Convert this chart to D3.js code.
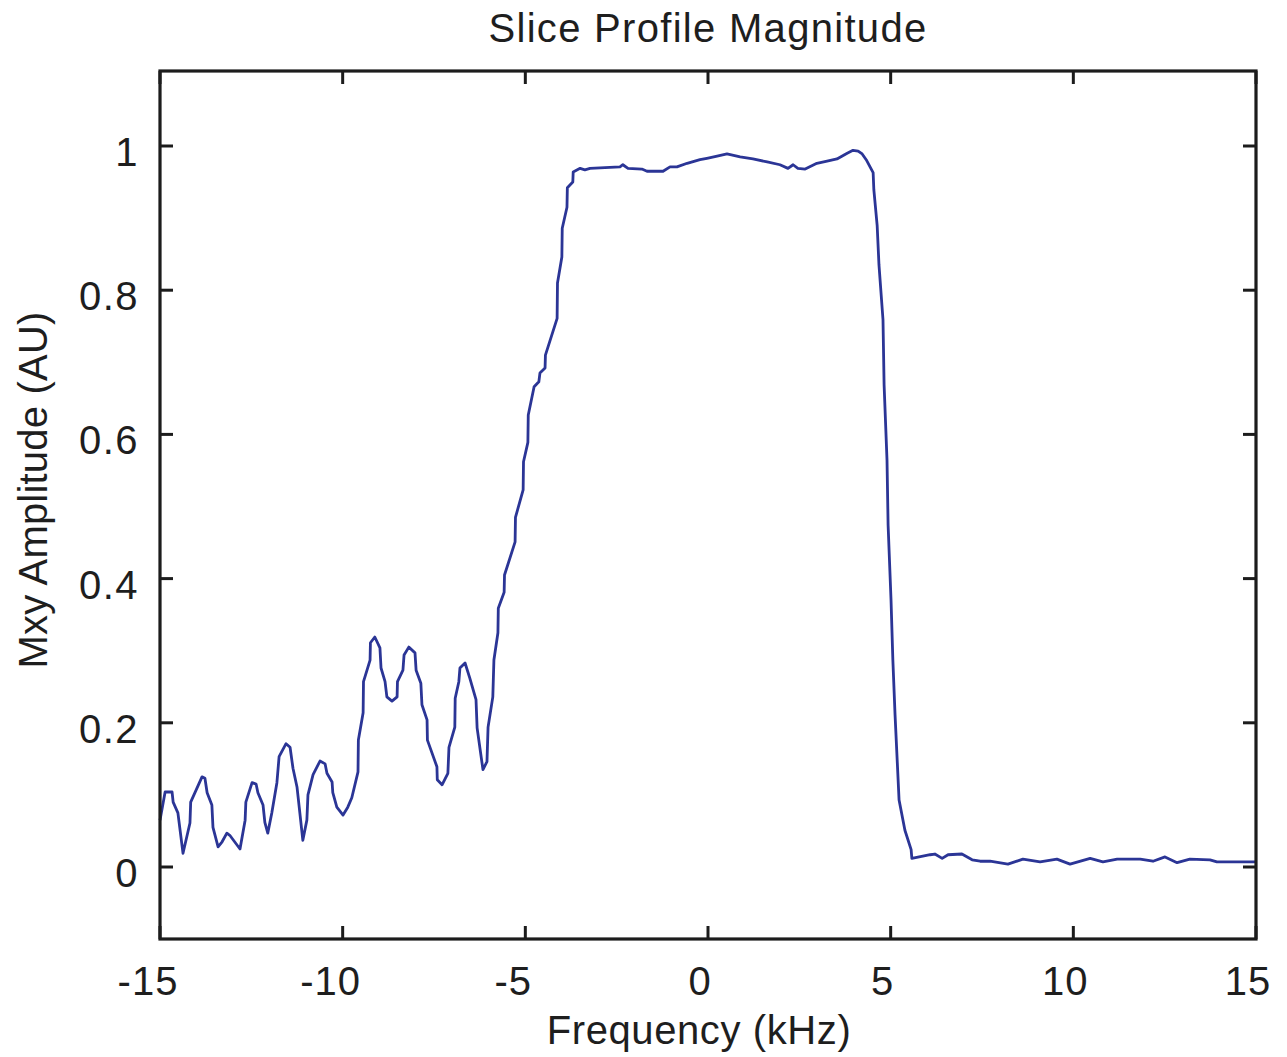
<!DOCTYPE html>
<html><head><meta charset="utf-8">
<script src="https://cdn.jsdelivr.net/npm/d3@7"></script>
<style>body{margin:0;background:#fff}svg{display:block}text{font-family:"Liberation Sans",Arial,sans-serif;fill:#1e1e1e}</style>
</head><body><svg id="c" width="1287" height="1057"></svg>
<script>
const freq = [-15.00,-14.86,-14.67,-14.64,-14.51,-14.37,-14.18,-14.16,-13.85,-13.77,-13.71,-13.58,-13.55,-13.41,-13.30,-13.17,-13.09,-12.81,-12.67,-12.65,-12.48,-12.37,-12.32,-12.18,-12.13,-12.05,-11.94,-11.80,-11.74,-11.55,-11.44,-11.36,-11.25,-11.09,-10.98,-10.95,-10.81,-10.62,-10.48,-10.43,-10.29,-10.27,-10.16,-9.99,-9.86,-9.75,-9.58,-9.57,-9.44,-9.43,-9.25,-9.24,-9.12,-8.98,-8.95,-8.84,-8.79,-8.65,-8.51,-8.50,-8.35,-8.32,-8.19,-8.02,-7.99,-7.86,-7.83,-7.69,-7.68,-7.42,-7.41,-7.28,-7.12,-7.09,-6.93,-6.92,-6.82,-6.79,-6.65,-6.52,-6.35,-6.32,-6.16,-6.05,-6.02,-5.89,-5.86,-5.75,-5.74,-5.58,-5.57,-5.28,-5.27,-5.06,-5.05,-4.93,-4.92,-4.76,-4.63,-4.60,-4.46,-4.45,-4.13,-4.12,-4.00,-3.99,-3.86,-3.85,-3.70,-3.69,-3.50,-3.37,-3.23,-2.41,-2.33,-2.19,-1.81,-1.67,-1.23,-1.04,-0.85,-0.57,-0.22,-0.03,0.25,0.52,0.88,1.23,1.62,1.97,2.19,2.33,2.46,2.66,2.98,3.26,3.53,3.81,3.97,4.11,4.22,4.33,4.52,4.54,4.63,4.68,4.79,4.82,4.90,4.93,5.01,5.06,5.12,5.23,5.39,5.56,5.58,6.08,6.21,6.41,6.57,6.95,7.23,7.45,7.72,8.21,8.62,9.09,9.55,9.91,10.46,10.81,11.20,11.83,12.18,12.51,12.84,13.19,13.74,13.93,14.89,15.00];
const mxy = [0.065,0.104,0.104,0.090,0.075,0.019,0.061,0.090,0.125,0.123,0.103,0.086,0.055,0.028,0.035,0.047,0.044,0.025,0.065,0.090,0.117,0.115,0.103,0.086,0.062,0.047,0.075,0.117,0.153,0.171,0.166,0.137,0.111,0.037,0.065,0.100,0.128,0.147,0.143,0.130,0.118,0.103,0.083,0.072,0.083,0.096,0.132,0.176,0.214,0.257,0.287,0.311,0.319,0.304,0.276,0.257,0.236,0.230,0.236,0.257,0.273,0.294,0.305,0.297,0.273,0.255,0.225,0.204,0.176,0.139,0.121,0.114,0.130,0.166,0.194,0.234,0.257,0.276,0.283,0.262,0.232,0.193,0.135,0.146,0.194,0.236,0.287,0.325,0.359,0.381,0.405,0.451,0.485,0.523,0.562,0.589,0.627,0.666,0.673,0.685,0.692,0.710,0.761,0.810,0.846,0.886,0.915,0.942,0.950,0.964,0.969,0.967,0.969,0.971,0.974,0.969,0.968,0.965,0.965,0.971,0.971,0.976,0.981,0.983,0.986,0.989,0.985,0.982,0.978,0.974,0.969,0.974,0.969,0.968,0.976,0.979,0.982,0.990,0.994,0.993,0.989,0.981,0.963,0.939,0.890,0.835,0.759,0.669,0.564,0.474,0.370,0.287,0.211,0.093,0.051,0.024,0.012,0.017,0.018,0.012,0.017,0.018,0.010,0.008,0.008,0.004,0.011,0.007,0.011,0.004,0.012,0.007,0.011,0.011,0.008,0.014,0.006,0.011,0.010,0.007,0.007,0.007];
const xTicks = [-15,-10,-5,0,5,10,15];
const yTicks = [0,0.2,0.4,0.6,0.8,1];
const xTickLabels = ["-15","-10","-5","0","5","10","15"];
const yTickLabels = ["0","0.2","0.4","0.6","0.8","1"];
const title = "Slice Profile Magnitude";
const xLabel = "Frequency (kHz)";
const yLabel = "Mxy Amplitude (AU)";

const svg = d3.select("#c");
const L=160,R=1256,T=71,B=939;
const x = d3.scaleLinear().domain([-15,15]).range([L,R]);
const y = d3.scaleLinear().domain([0,1]).range([867,146]);
const fs = 40, col="#1c1c1c";

const g = svg.append("g");
g.append("path")
  .datum(freq.map((f,i)=>[f,mxy[i]]))
  .attr("fill","none").attr("stroke","#2b3596").attr("stroke-width",2.8)
  .attr("stroke-linejoin","round")
  .attr("d", d3.line().x(d=>x(d[0])).y(d=>y(d[1])));

g.append("rect").attr("x",L).attr("y",T).attr("width",R-L).attr("height",B-T)
  .attr("fill","none").attr("stroke",col).attr("stroke-width",3.2);

const tl = 13;
xTicks.forEach(t=>{
  g.append("line").attr("x1",x(t)).attr("x2",x(t)).attr("y1",B).attr("y2",B-tl).attr("stroke",col).attr("stroke-width",3);
  g.append("line").attr("x1",x(t)).attr("x2",x(t)).attr("y1",T).attr("y2",T+tl).attr("stroke",col).attr("stroke-width",3);
});
yTicks.forEach(t=>{
  g.append("line").attr("x1",L).attr("x2",L+tl).attr("y1",y(t)).attr("y2",y(t)).attr("stroke",col).attr("stroke-width",3);
  g.append("line").attr("x1",R).attr("x2",R-tl).attr("y1",y(t)).attr("y2",y(t)).attr("stroke",col).attr("stroke-width",3);
});
xTicks.forEach((t,i)=>{
  svg.append("text").attr("x",x(t)-(t<0?12:8)).attr("y",995).attr("text-anchor","middle")
    .attr("font-size",fs).attr("letter-spacing",1).text(xTickLabels[i]);
});
yTicks.forEach((t,i)=>{
  svg.append("text").attr("x",139).attr("y",y(t)+20).attr("text-anchor","end")
    .attr("font-size",fs).attr("letter-spacing",1.5).text(yTickLabels[i]);
});
svg.append("text").attr("x",708).attr("y",42).attr("text-anchor","middle").attr("font-size",fs).attr("letter-spacing",1.3).text(title);
svg.append("text").attr("x",699).attr("y",1044).attr("text-anchor","middle").attr("font-size",fs).attr("letter-spacing",0.6).text(xLabel);
svg.append("text").attr("transform","translate(47,490) rotate(-90)").attr("text-anchor","middle").attr("font-size",fs).attr("letter-spacing",0.2).text(yLabel);
</script></body></html>
